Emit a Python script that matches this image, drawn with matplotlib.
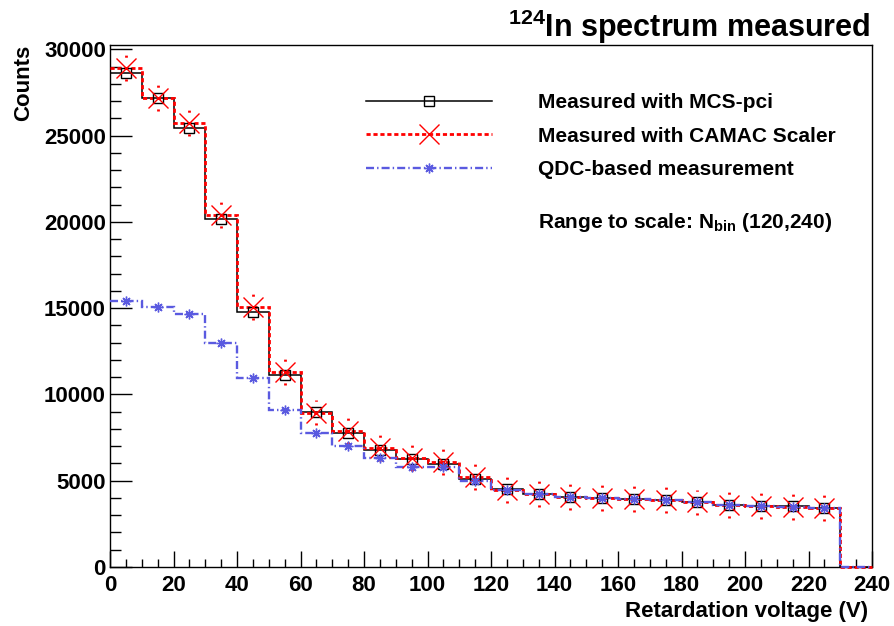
import numpy as np
import matplotlib
matplotlib.use("Agg")
import matplotlib.pyplot as plt
from matplotlib.lines import Line2D
from matplotlib.ticker import MultipleLocator

plt.rcParams['font.family'] = ['Liberation Sans', 'DejaVu Sans']
plt.rcParams['font.weight'] = 'bold'
plt.rcParams['mathtext.fontset'] = 'custom'
plt.rcParams['mathtext.rm'] = 'Liberation Sans:bold'
plt.rcParams['mathtext.it'] = 'Liberation Sans:bold'
plt.rcParams['mathtext.bf'] = 'Liberation Sans:bold'

# bin edges of the retardation voltage histogram (V)
edges = np.arange(0, 250, 10)

# counts per bin (last bin 230-240 empty)
mcs_pci = [28650, 27160, 25460, 20150, 14780, 11150, 8960, 7790, 6780, 6260,
           5950, 5120, 4500, 4230, 4060, 3980, 3960, 3860, 3750, 3610,
           3560, 3510, 3440, 0]
camac = [28930, 27180, 25710, 20400, 15070, 11300, 8950, 7900, 6880, 6300,
         6100, 5200, 4480, 4230, 4040, 3980, 3960, 3860, 3740, 3600,
         3560, 3500, 3420, 0]
qdc = [15420, 15050, 14660, 13000, 10950, 9120, 7750, 7030, 6300, 5810,
       5780, 5000, 4480, 4230, 4040, 3980, 3960, 3860, 3740, 3600,
       3560, 3500, 3420, 0]
camac_err = [750] * 23

centers = 0.5 * (edges[:-1] + edges[1:])
n_pts = 23  # markers drawn only for non-empty bins

blue = '#5a5ae0'
red_ls = (0, (1.5, 1.0))
blue_ls = (0, (3.4, 1.3, 0.6, 1.3))

fig = plt.figure(figsize=(8.94, 6.26), dpi=100)
ax = fig.add_axes([110 / 894, 59 / 626, 762 / 894, 522 / 626])

# histograms
ax.stairs(mcs_pci, edges, baseline=None, color='black', lw=1.1, zorder=3, clip_on=False)
ax.stairs(camac, edges, baseline=None, color='red', lw=2.0, ls=red_ls, zorder=4, clip_on=False)
ax.stairs(qdc, edges, baseline=None, color=blue, lw=1.7, ls=blue_ls, zorder=5, clip_on=False)

# markers
ax.plot(centers[:n_pts], mcs_pci[:n_pts], ls='none', marker='s', ms=6.5,
        mfc='none', mec='black', mew=1.0, zorder=6)
eb = ax.errorbar(centers[:n_pts], camac[:n_pts], yerr=camac_err, fmt='none',
                 ecolor='red', elinewidth=2.0, capsize=0, zorder=6)
for lc in eb[2]:
    lc.set_linestyle((0, (0.75, 3.53)))
ax.plot(centers[:n_pts], camac[:n_pts], ls='none', marker='x', ms=14,
        mec='red', mew=1.0, zorder=7)
ax.plot(centers[:n_pts], qdc[:n_pts], ls='none', marker=(8, 2, 0), ms=7,
        mec=blue, mew=1.0, zorder=8)

ax.set_xlim(0, 240)
ax.set_ylim(0, 30250)

ax.xaxis.set_major_locator(MultipleLocator(20))
ax.xaxis.set_minor_locator(MultipleLocator(5))
ax.yaxis.set_major_locator(MultipleLocator(5000))
ax.yaxis.set_minor_locator(MultipleLocator(1000))
ax.tick_params(axis='both', which='both', direction='in', top=False, right=False,
               labelsize=16, width=1.0)
ax.tick_params(axis='y', which='major', length=16, pad=3)
ax.tick_params(axis='y', which='minor', length=8)
ax.tick_params(axis='x', which='major', length=11.5, pad=6)
ax.tick_params(axis='x', which='minor', length=5.8)
for s in ax.spines.values():
    s.set_linewidth(1.0)

ax.set_xlabel('Retardation voltage (V)', fontsize=16, fontweight='bold', loc='right')
ax.xaxis.set_label_coords(0.995, -0.066)
ax.set_ylabel('Counts', fontsize=16, fontweight='bold', loc='top')
ax.yaxis.set_label_coords(-0.1, 1.0)

fig.text(870 / 894, 1 - 37 / 626, r'$^{124}$In spectrum measured',
         fontsize=22, fontweight='bold', ha='right', va='baseline')

handles = [
    Line2D([], [], color='black', lw=1.1, marker='s', ms=6.5, mfc='none', mew=1.0),
    Line2D([], [], color='red', lw=2.0, ls=red_ls, marker='x', ms=14, mew=1.0),
    Line2D([], [], color=blue, lw=1.7, ls=blue_ls, marker=(8, 2, 0), ms=7, mew=1.0),
]
labels = ['Measured with MCS-pci', 'Measured with CAMAC Scaler', 'QDC-based measurement']
ax.legend(handles, labels, loc='upper left', bbox_to_anchor=((366 - 110) / 762, (567 - 93) / 522),
          frameon=False, prop={'weight': 'bold', 'size': 15},
          handlelength=6.06, handletextpad=2.2, labelspacing=0.7,
          borderpad=0, borderaxespad=0, numpoints=1)

ax.text((538 - 110) / 762, (567 - 222) / 522, r'Range to scale: N$_{\rm bin}$ (120,240)',
        transform=ax.transAxes, fontsize=15, fontweight='bold', va='center', ha='left')

fig.savefig('out.png', dpi=100)
